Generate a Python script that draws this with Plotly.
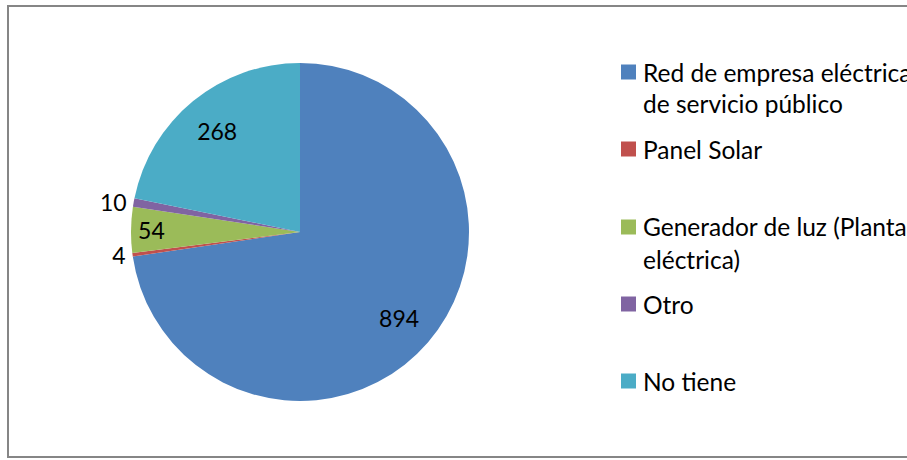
import plotly.graph_objects as go

categories = ["Red de empresa eléctrica de servicio público", "Panel Solar",
              "Generador de luz (Planta eléctrica)", "Otro", "No tiene"]
legend_lines = [["Red de empresa eléctrica", "de servicio público"], ["Panel Solar"],
                ["Generador de luz (Planta", "eléctrica)"], ["Otro"], ["No tiene"]]
values = [894, 4, 54, 10, 268]
colors = ["#4F81BD", "#C0504D", "#9BBB59", "#8064A2", "#4BACC6"]
base_text_pos = ["none", "outside", "inside", "outside", "none"]
ring_text_pos = ["inside", "none", "none", "none", "inside"]

W, H = 907, 460
FONT = "Lato"


def px(X):
    return X / W


def py(Y):
    return 1 - Y / H


dom = dict(x=[px(131), px(469)], y=[py(401), py(63)])

fig = go.Figure()
fig.add_trace(go.Pie(
    labels=categories, values=values, sort=False, direction="clockwise", rotation=0,
    marker=dict(colors=colors, line=dict(width=0)),
    textinfo="value", textposition=base_text_pos, insidetextorientation="horizontal",
    textfont=dict(family=FONT, size=23, color="black"),
    domain=dom, showlegend=False, hoverinfo="label+value",
))
fig.add_trace(go.Pie(
    labels=categories, values=values, sort=False, direction="clockwise", rotation=0,
    hole=0.55,
    marker=dict(colors=["rgba(0,0,0,0)"] * len(values), line=dict(width=0)),
    textinfo="value", textposition=ring_text_pos, insidetextorientation="horizontal",
    textfont=dict(family=FONT, size=23, color="black"),
    domain=dom, showlegend=False, hoverinfo="skip",
))

# manual legend
legend_y = [[72, 103], [149], [227, 259], [304], [381]]
shapes = []
annotations = []
for lines, ys, col in zip(legend_lines, legend_y, colors):
    y0 = ys[0]
    shapes.append(dict(type="rect", xref="paper", yref="paper",
                       x0=px(621), x1=px(636), y0=py(y0 + 7.5), y1=py(y0 - 7.5),
                       fillcolor=col, line=dict(width=0)))
    for txt, yy in zip(lines, ys):
        annotations.append(dict(text=txt, xref="paper", yref="paper", x=px(641), y=py(yy),
                                xanchor="left", yanchor="middle", showarrow=False,
                                font=dict(family=FONT, size=24.5, color="black")))

# frame (right edge lies outside the visible area)
xl, xr, yt, yb = px(8), px(960), py(6), py(457)
shapes.append(dict(type="path", xref="paper", yref="paper",
                   path=f"M {xr} {yt} L {xl} {yt} L {xl} {yb} L {xr} {yb}",
                   line=dict(color="#868686", width=2)))

fig.update_layout(width=W, height=H, margin=dict(l=0, r=0, t=0, b=0),
                  paper_bgcolor="white", plot_bgcolor="white",
                  shapes=shapes, annotations=annotations,
                  font=dict(family=FONT))
fig.write_html("out.html", config={"displayModeBar": False},
               post_script="document.body.style.margin='0';document.body.style.overflow='hidden';")
